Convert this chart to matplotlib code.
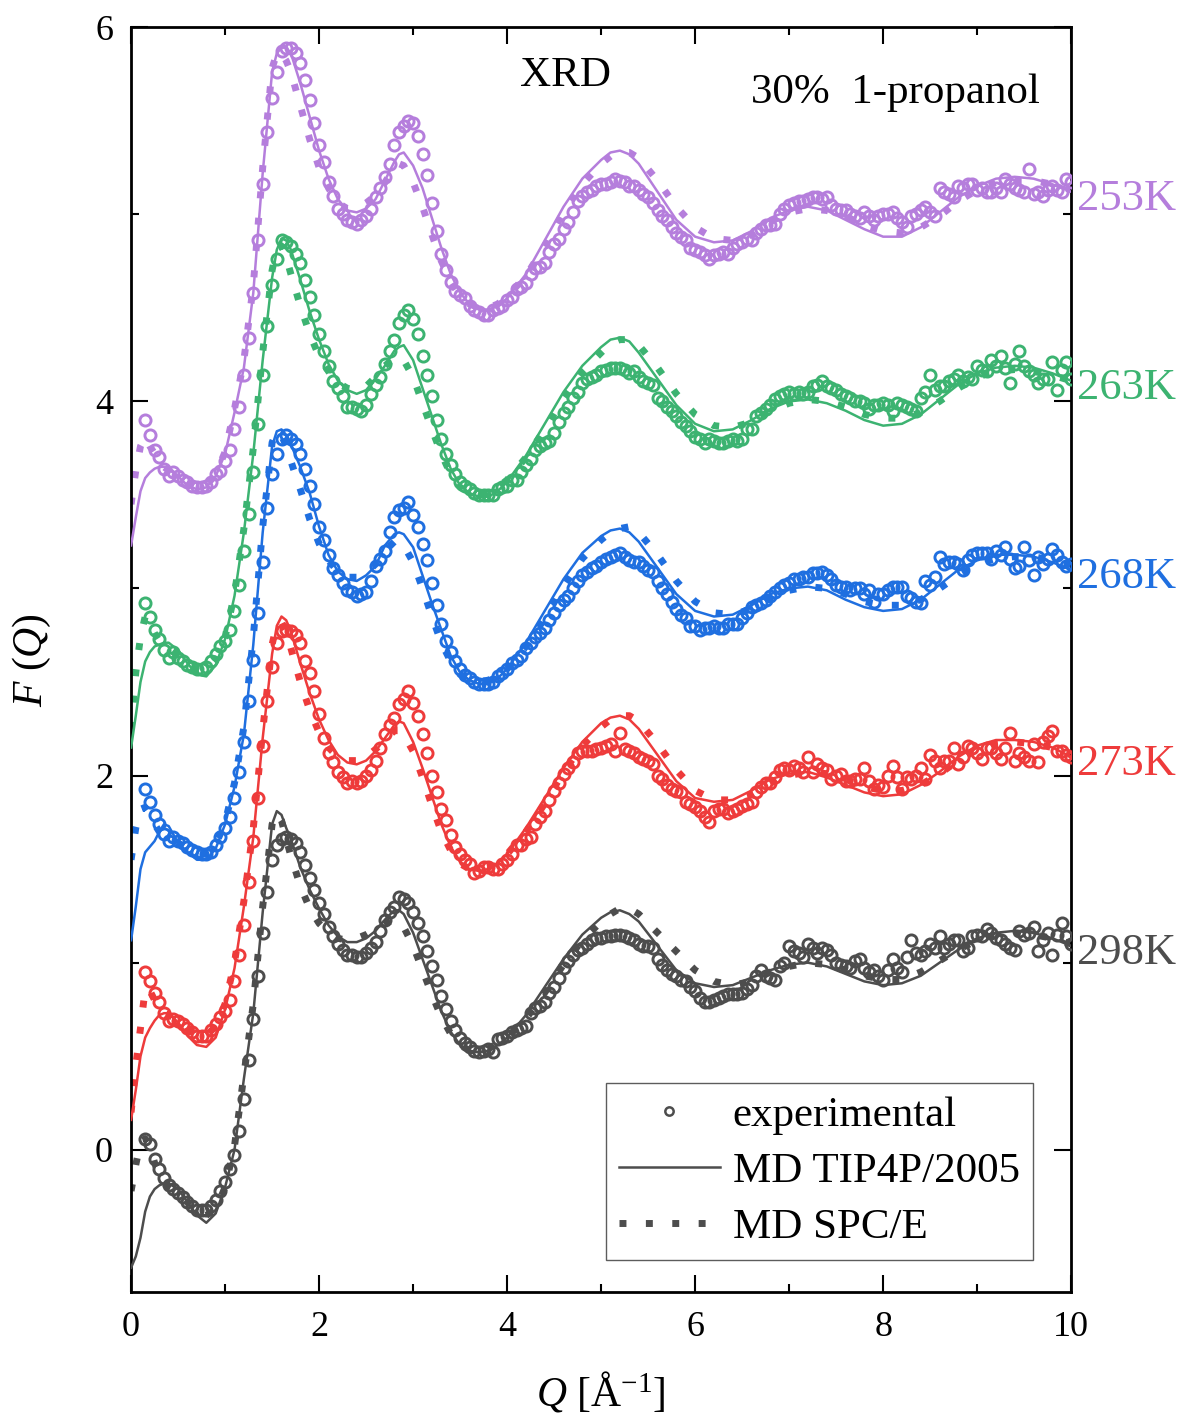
import numpy as np
import matplotlib
matplotlib.use("Agg")
import matplotlib.pyplot as plt
from matplotlib.lines import Line2D
from matplotlib.ticker import MultipleLocator
from matplotlib.transforms import blended_transform_factory

plt.rcParams['font.family'] = ['Liberation Serif', 'DejaVu Serif']
plt.rcParams['mathtext.fontset'] = 'custom'
plt.rcParams['mathtext.rm'] = 'Liberation Serif'
plt.rcParams['mathtext.it'] = 'Liberation Serif:italic'

# temperatures, vertical shift of each curve and colours
temps = ['298K', '273K', '268K', '263K', '253K']
offsets = [0, 1, 2, 3, 4]
colors = ['#4d4d4d', '#ee3b3b', '#1f6fe0', '#3cb371', '#b57edc']

# experimental grid, Q = 0.15 ... 10.0 in steps of 0.05
q_exp = np.round(np.arange(0.15, 10.001, 0.05), 2)

exp_298 = [
    0.06, 0.03, -0.05, -0.10, -0.15, -0.19, -0.21, -0.23, -0.25, -0.28,
    -0.30, -0.32, -0.32, -0.32, -0.30, -0.27, -0.22, -0.17, -0.10, -0.03,
    0.10, 0.27, 0.48, 0.70, 0.93, 1.16, 1.38, 1.55, 1.63, 1.66,
    1.67, 1.66, 1.64, 1.59, 1.52, 1.45, 1.39, 1.32, 1.26, 1.19,
    1.14, 1.10, 1.07, 1.04, 1.04, 1.03, 1.03, 1.05, 1.08, 1.11,
    1.17, 1.23, 1.27, 1.30, 1.35, 1.34, 1.32, 1.27, 1.21, 1.14,
    1.06, 0.98, 0.91, 0.82, 0.75, 0.69, 0.64, 0.60, 0.57, 0.55,
    0.53, 0.52, 0.53, 0.54, 0.52, 0.59, 0.60, 0.61, 0.63, 0.64,
    0.65, 0.66, 0.73, 0.76, 0.77, 0.79, 0.84, 0.87, 0.92, 0.97,
    1.01, 1.04, 1.07, 1.08, 1.10, 1.12, 1.13, 1.13, 1.14, 1.14,
    1.15, 1.15, 1.14, 1.13, 1.12, 1.10, 1.09, 1.09, 1.08, 1.02,
    0.99, 0.96, 0.94, 0.93, 0.91, 0.90, 0.87, 0.85, 0.81, 0.79,
    0.79, 0.80, 0.81, 0.82, 0.83, 0.83, 0.83, 0.84, 0.86, 0.88,
    0.93, 0.96, 0.93, 0.92, 0.91, 0.98, 1.00, 1.09, 1.06, 1.05,
    1.03, 1.10, 1.08, 1.05, 1.08, 1.07, 1.04, 1.00, 0.99, 0.98,
    0.97, 1.01, 1.02, 0.97, 0.95, 0.96, 0.93, 0.91, 0.96, 1.02,
    0.97, 0.95, 1.03, 1.12, 1.05, 1.04, 1.06, 1.10, 1.08, 1.14,
    1.08, 1.10, 1.12, 1.12, 1.06, 1.08, 1.14, 1.15, 1.14, 1.18,
    1.16, 1.13, 1.12, 1.10, 1.08, 1.07, 1.17, 1.15, 1.16, 1.19,
    1.06, 1.12, 1.16, 1.04, 1.15, 1.21, 1.14, 1.10]

exp_273 = [
    -0.05, -0.10, -0.16, -0.21, -0.27, -0.31, -0.30, -0.31, -0.33, -0.35,
    -0.37, -0.39, -0.39, -0.39, -0.36, -0.33, -0.29, -0.26, -0.20, -0.10,
    0.04, 0.20, 0.43, 0.65, 0.88, 1.16, 1.40, 1.58, 1.71, 1.77,
    1.78, 1.77, 1.75, 1.71, 1.61, 1.55, 1.45, 1.33, 1.20, 1.12,
    1.07, 1.02, 0.99, 0.96, 0.97, 0.96, 0.97, 1.00, 1.03, 1.08,
    1.15, 1.22, 1.27, 1.31, 1.38, 1.41, 1.45, 1.39, 1.32, 1.22,
    1.12, 1.00, 0.91, 0.82, 0.76, 0.68, 0.62, 0.58, 0.55, 0.53,
    0.48, 0.49, 0.51, 0.51, 0.50, 0.50, 0.53, 0.55, 0.58, 0.63,
    0.63, 0.66, 0.67, 0.74, 0.78, 0.81, 0.87, 0.92, 0.96, 1.01,
    1.04, 1.07, 1.12, 1.13, 1.13, 1.13, 1.14, 1.15, 1.16, 1.17,
    1.13, 1.23, 1.14, 1.13, 1.12, 1.10, 1.09, 1.08, 1.06, 1.00,
    0.98, 0.95, 0.93, 0.92, 0.91, 0.86, 0.85, 0.83, 0.81, 0.78,
    0.75, 0.81, 0.82, 0.82, 0.80, 0.81, 0.82, 0.84, 0.85, 0.86,
    0.91, 0.94, 0.96, 0.96, 0.99, 1.03, 1.04, 1.03, 1.05, 1.04,
    1.02, 1.10, 1.02, 1.06, 1.04, 1.03, 0.98, 1.00, 1.01, 0.97,
    0.97, 0.98, 0.98, 1.04, 0.97, 0.93, 0.95, 0.94, 1.00, 1.05,
    0.99, 0.93, 0.99, 0.98, 1.00, 1.04, 0.98, 1.11, 1.08, 1.04,
    1.08, 1.08, 1.15, 1.06, 1.10, 1.16, 1.15, 1.12, 1.09, 1.15,
    1.15, 1.12, 1.09, 1.15, 1.23, 1.08, 1.12, 1.10, 1.08, 1.17,
    1.07, 1.18, 1.21, 1.24, 1.13, 1.13, 1.11, 1.10]

exp_268 = [
    -0.07, -0.14, -0.21, -0.26, -0.31, -0.35, -0.33, -0.35, -0.36, -0.38,
    -0.40, -0.41, -0.42, -0.42, -0.41, -0.37, -0.33, -0.28, -0.22, -0.12,
    0.02, 0.18, 0.40, 0.62, 0.87, 1.14, 1.43, 1.61, 1.72, 1.80,
    1.82, 1.80, 1.77, 1.72, 1.64, 1.55, 1.45, 1.33, 1.26, 1.18,
    1.11, 1.07, 1.03, 0.99, 0.98, 0.96, 0.97, 0.98, 1.04, 1.12,
    1.16, 1.20, 1.30, 1.38, 1.42, 1.43, 1.46, 1.39, 1.33, 1.24,
    1.15, 1.03, 0.91, 0.81, 0.72, 0.66, 0.61, 0.57, 0.54, 0.52,
    0.50, 0.49, 0.49, 0.49, 0.50, 0.53, 0.55, 0.57, 0.60, 0.62,
    0.64, 0.68, 0.71, 0.74, 0.76, 0.79, 0.83, 0.87, 0.91, 0.94,
    0.96, 1.00, 1.04, 1.07, 1.09, 1.11, 1.12, 1.14, 1.16, 1.17,
    1.18, 1.19, 1.17, 1.15, 1.14, 1.14, 1.12, 1.10, 1.09, 1.04,
    1.00, 0.97, 0.93, 0.89, 0.86, 0.84, 0.80, 0.80, 0.78, 0.79,
    0.79, 0.80, 0.79, 0.79, 0.81, 0.81, 0.81, 0.84, 0.87, 0.90,
    0.91, 0.92, 0.94, 0.96, 0.98, 1.00, 1.02, 1.03, 1.05, 1.05,
    1.06, 1.06, 1.08, 1.08, 1.09, 1.07, 1.05, 1.02, 1.01, 1.01,
    0.99, 1.00, 1.00, 0.97, 0.99, 0.93, 0.97, 0.97, 0.99, 1.01,
    1.01, 1.01, 0.96, 0.95, 0.93, 0.92, 1.04, 1.02, 1.06, 1.17,
    1.13, 1.14, 1.14, 1.13, 1.10, 1.15, 1.18, 1.19, 1.19, 1.19,
    1.16, 1.20, 1.18, 1.22, 1.16, 1.11, 1.12, 1.22, 1.15, 1.07,
    1.17, 1.13, 1.16, 1.21, 1.18, 1.14, 1.12, 1.13]

exp_263 = [
    -0.08, -0.15, -0.22, -0.27, -0.33, -0.37, -0.34, -0.37, -0.39, -0.41,
    -0.42, -0.43, -0.43, -0.42, -0.39, -0.35, -0.31, -0.28, -0.22, -0.12,
    0.02, 0.20, 0.40, 0.62, 0.88, 1.14, 1.40, 1.62, 1.76, 1.86,
    1.85, 1.83, 1.79, 1.74, 1.65, 1.56, 1.46, 1.36, 1.27, 1.19,
    1.11, 1.07, 1.03, 0.97, 0.97, 0.96, 0.95, 0.98, 1.04, 1.09,
    1.13, 1.20, 1.27, 1.33, 1.42, 1.46, 1.49, 1.44, 1.36, 1.24,
    1.14, 1.03, 0.90, 0.80, 0.72, 0.66, 0.61, 0.57, 0.55, 0.53,
    0.51, 0.50, 0.50, 0.50, 0.50, 0.53, 0.54, 0.55, 0.58, 0.58,
    0.62, 0.66, 0.69, 0.74, 0.76, 0.78, 0.79, 0.83, 0.89, 0.94,
    0.97, 1.02, 1.05, 1.10, 1.12, 1.13, 1.14, 1.16, 1.17, 1.18,
    1.18, 1.18, 1.17, 1.15, 1.16, 1.13, 1.11, 1.10, 1.09, 1.02,
    1.00, 0.97, 0.95, 0.92, 0.89, 0.87, 0.84, 0.81, 0.80, 0.78,
    0.80, 0.79, 0.78, 0.78, 0.79, 0.80, 0.79, 0.80, 0.85, 0.85,
    0.92, 0.94, 0.96, 0.98, 1.01, 1.03, 1.04, 1.05, 1.04, 1.05,
    1.04, 1.05, 1.08, 1.09, 1.11, 1.08, 1.07, 1.06, 1.04, 1.03,
    1.02, 1.00, 1.00, 0.99, 0.96, 0.98, 0.98, 0.99, 0.98, 0.95,
    0.99, 0.98, 0.97, 0.96, 0.95, 1.02, 1.05, 1.14, 1.06, 1.08,
    1.08, 1.11, 1.12, 1.14, 1.11, 1.13, 1.12, 1.19, 1.17, 1.16,
    1.22, 1.19, 1.24, 1.18, 1.10, 1.20, 1.27, 1.19, 1.16, 1.14,
    1.10, 1.12, 1.12, 1.21, 1.06, 1.17, 1.21, 1.12]

exp_253 = [
    -0.10, -0.18, -0.26, -0.30, -0.36, -0.40, -0.38, -0.40, -0.42, -0.43,
    -0.45, -0.46, -0.46, -0.45, -0.43, -0.39, -0.37, -0.32, -0.26, -0.15,
    -0.03, 0.14, 0.34, 0.58, 0.86, 1.16, 1.44, 1.62, 1.76, 1.87,
    1.89, 1.89, 1.86, 1.81, 1.72, 1.61, 1.49, 1.37, 1.28, 1.17,
    1.10, 1.03, 1.00, 0.97, 0.96, 0.95, 0.97, 0.99, 1.03, 1.09,
    1.14, 1.20, 1.27, 1.37, 1.44, 1.47, 1.50, 1.49, 1.42, 1.32,
    1.21, 1.06, 0.91, 0.79, 0.70, 0.64, 0.59, 0.57, 0.55, 0.51,
    0.49, 0.48, 0.46, 0.46, 0.49, 0.50, 0.51, 0.54, 0.56, 0.60,
    0.61, 0.63, 0.68, 0.71, 0.72, 0.74, 0.80, 0.84, 0.87, 0.92,
    0.96, 1.01, 1.07, 1.10, 1.12, 1.13, 1.15, 1.16, 1.16, 1.17,
    1.19, 1.18, 1.17, 1.15, 1.15, 1.13, 1.11, 1.09, 1.06, 1.02,
    0.99, 0.97, 0.93, 0.90, 0.88, 0.86, 0.82, 0.81, 0.80, 0.78,
    0.76, 0.78, 0.79, 0.80, 0.79, 0.82, 0.84, 0.85, 0.87, 0.86,
    0.90, 0.92, 0.94, 0.94, 0.95, 1.00, 1.03, 1.05, 1.06, 1.07,
    1.07, 1.08, 1.09, 1.09, 1.08, 1.09, 1.05, 1.03, 1.02, 1.02,
    1.00, 0.99, 0.98, 1.01, 0.99, 0.97, 0.99, 1.00, 1.00, 1.01,
    0.98, 0.96, 0.93, 0.99, 1.00, 1.02, 1.04, 1.01, 0.99, 1.14,
    1.12, 1.11, 1.09, 1.15, 1.14, 1.16, 1.16, 1.13, 1.14, 1.12,
    1.12, 1.14, 1.12, 1.19, 1.16, 1.14, 1.13, 1.12, 1.24, 1.11,
    1.12, 1.10, 1.13, 1.15, 1.13, 1.12, 1.19, 1.17]

# MD curves (unshifted)
q_md = [0, 0.05, 0.1, 0.15, 0.2, 0.25, 0.3, 0.35, 0.4, 0.5,
        0.6, 0.7, 0.8, 0.9, 1.0, 1.1, 1.2, 1.3, 1.4, 1.5,
        1.55, 1.6, 1.65, 1.7, 1.8, 1.9, 2.0, 2.1, 2.2, 2.3,
        2.4, 2.5, 2.6, 2.7, 2.8, 2.85, 2.9, 3.0, 3.1, 3.2,
        3.3, 3.4, 3.5, 3.6, 3.7, 3.8, 3.9, 4.0, 4.2, 4.4,
        4.6, 4.8, 5.0, 5.1, 5.2, 5.3, 5.4, 5.6, 5.8, 6.0,
        6.2, 6.4, 6.6, 6.8, 7.0, 7.2, 7.4, 7.6, 7.8, 8.0,
        8.2, 8.4, 8.6, 8.8, 9.0, 9.2, 9.4, 9.6, 9.8, 10.0]

tip4p_298 = [
    -0.63, -0.57, -0.47, -0.33, -0.25, -0.21, -0.19, -0.18, -0.18, -0.21,
    -0.28, -0.35, -0.39, -0.34, -0.20, 0.00, 0.38, 0.73, 1.27, 1.74,
    1.81, 1.79, 1.72, 1.66, 1.51, 1.39, 1.29, 1.20, 1.14, 1.11,
    1.11, 1.13, 1.17, 1.23, 1.28, 1.28, 1.26, 1.16, 1.02, 0.88,
    0.74, 0.63, 0.56, 0.53, 0.52, 0.53, 0.56, 0.60, 0.72, 0.87,
    1.02, 1.15, 1.24, 1.27, 1.28, 1.26, 1.22, 1.09, 0.96, 0.89,
    0.87, 0.88, 0.92, 0.96, 0.99, 1.00, 0.98, 0.94, 0.90, 0.88,
    0.89, 0.93, 1.00, 1.07, 1.13, 1.16, 1.17, 1.16, 1.13, 1.09]
spce_298 = [
    -0.22, -0.08, 0.04, 0.06, 0.02, -0.07, -0.14, -0.18, -0.20, -0.23,
    -0.28, -0.33, -0.35, -0.32, -0.20, 0.02, 0.40, 0.78, 1.30, 1.74,
    1.80, 1.76, 1.66, 1.57, 1.41, 1.29, 1.21, 1.16, 1.13, 1.12,
    1.13, 1.15, 1.18, 1.21, 1.23, 1.22, 1.19, 1.09, 0.96, 0.83,
    0.71, 0.62, 0.56, 0.53, 0.53, 0.54, 0.57, 0.60, 0.70, 0.84,
    0.99, 1.12, 1.22, 1.26, 1.29, 1.29, 1.26, 1.16, 1.06, 0.96,
    0.90, 0.88, 0.90, 0.95, 0.98, 1.00, 0.99, 0.96, 0.93, 0.91,
    0.91, 0.95, 1.01, 1.07, 1.12, 1.15, 1.16, 1.15, 1.13, 1.10]

tip4p_273 = [
    -0.84, -0.68, -0.50, -0.40, -0.35, -0.31, -0.28, -0.27, -0.27, -0.32,
    -0.39, -0.44, -0.45, -0.40, -0.25, -0.03, 0.30, 0.67, 1.20, 1.65,
    1.80, 1.85, 1.83, 1.77, 1.60, 1.44, 1.30, 1.19, 1.11, 1.07,
    1.06, 1.08, 1.13, 1.20, 1.27, 1.29, 1.28, 1.18, 1.04, 0.89,
    0.74, 0.62, 0.54, 0.50, 0.49, 0.50, 0.53, 0.58, 0.72, 0.88,
    1.04, 1.18, 1.28, 1.31, 1.32, 1.30, 1.25, 1.11, 0.97, 0.88,
    0.86, 0.87, 0.92, 0.98, 1.01, 1.02, 0.99, 0.95, 0.91, 0.89,
    0.90, 0.95, 1.02, 1.10, 1.16, 1.19, 1.19, 1.18, 1.15, 1.10]
spce_273 = [
    -0.80, -0.55, -0.35, -0.14, -0.15, -0.20, -0.25, -0.27, -0.28, -0.31,
    -0.35, -0.39, -0.39, -0.34, -0.22, 0.00, 0.33, 0.72, 1.24, 1.70,
    1.81, 1.82, 1.77, 1.68, 1.50, 1.35, 1.23, 1.15, 1.10, 1.08,
    1.08, 1.10, 1.14, 1.19, 1.24, 1.24, 1.22, 1.13, 0.99, 0.84,
    0.70, 0.60, 0.53, 0.50, 0.50, 0.51, 0.54, 0.58, 0.70, 0.85,
    1.02, 1.16, 1.26, 1.30, 1.32, 1.32, 1.29, 1.17, 1.03, 0.92,
    0.87, 0.87, 0.90, 0.96, 1.00, 1.02, 1.01, 0.98, 0.94, 0.92,
    0.92, 0.95, 1.01, 1.08, 1.14, 1.17, 1.18, 1.17, 1.15, 1.11]

tip4p_268 = [
    -0.88, -0.70, -0.50, -0.41, -0.38, -0.35, -0.30, -0.26, -0.27, -0.36,
    -0.41, -0.45, -0.45, -0.39, -0.26, -0.06, 0.22, 0.70, 1.30, 1.76,
    1.84, 1.85, 1.82, 1.77, 1.65, 1.51, 1.33, 1.18, 1.09, 1.05,
    1.04, 1.07, 1.12, 1.23, 1.29, 1.30, 1.29, 1.22, 1.07, 0.92,
    0.78, 0.64, 0.55, 0.51, 0.49, 0.49, 0.52, 0.57, 0.71, 0.88,
    1.05, 1.19, 1.28, 1.31, 1.32, 1.30, 1.25, 1.11, 0.97, 0.88,
    0.85, 0.86, 0.91, 0.97, 1.00, 1.01, 0.99, 0.94, 0.90, 0.88,
    0.89, 0.94, 1.02, 1.10, 1.15, 1.18, 1.18, 1.17, 1.14, 1.10]
spce_268 = [
    -0.45, -0.28, -0.18, -0.17, -0.21, -0.26, -0.30, -0.32, -0.33, -0.36,
    -0.39, -0.42, -0.42, -0.37, -0.25, -0.04, 0.26, 0.74, 1.33, 1.78,
    1.84, 1.82, 1.76, 1.68, 1.53, 1.37, 1.24, 1.15, 1.09, 1.06,
    1.06, 1.08, 1.13, 1.20, 1.25, 1.25, 1.23, 1.14, 1.00, 0.85,
    0.71, 0.61, 0.54, 0.51, 0.50, 0.51, 0.53, 0.57, 0.69, 0.84,
    1.01, 1.16, 1.26, 1.30, 1.32, 1.33, 1.30, 1.18, 1.04, 0.93,
    0.87, 0.86, 0.89, 0.95, 0.99, 1.01, 1.00, 0.97, 0.93, 0.91,
    0.91, 0.94, 1.00, 1.07, 1.13, 1.16, 1.17, 1.17, 1.15, 1.12]

tip4p_263 = [
    -0.85, -0.68, -0.50, -0.39, -0.34, -0.31, -0.30, -0.29, -0.29, -0.33,
    -0.40, -0.46, -0.47, -0.41, -0.27, -0.04, 0.30, 0.72, 1.22, 1.66,
    1.81, 1.87, 1.86, 1.81, 1.65, 1.48, 1.33, 1.20, 1.11, 1.06,
    1.04, 1.06, 1.12, 1.19, 1.27, 1.29, 1.30, 1.22, 1.07, 0.92,
    0.77, 0.64, 0.55, 0.51, 0.49, 0.49, 0.52, 0.57, 0.71, 0.88,
    1.05, 1.19, 1.29, 1.33, 1.34, 1.32, 1.26, 1.12, 0.98, 0.88,
    0.84, 0.85, 0.90, 0.96, 1.00, 1.01, 0.99, 0.95, 0.90, 0.87,
    0.88, 0.93, 1.01, 1.09, 1.15, 1.18, 1.19, 1.18, 1.15, 1.11]
spce_263 = [
    -0.75, -0.45, -0.26, -0.15, -0.19, -0.24, -0.28, -0.30, -0.31, -0.35,
    -0.40, -0.44, -0.44, -0.39, -0.26, -0.03, 0.32, 0.75, 1.26, 1.70,
    1.82, 1.83, 1.77, 1.68, 1.51, 1.36, 1.24, 1.16, 1.10, 1.07,
    1.06, 1.08, 1.13, 1.19, 1.23, 1.24, 1.22, 1.13, 0.99, 0.85,
    0.72, 0.61, 0.54, 0.51, 0.50, 0.51, 0.54, 0.58, 0.70, 0.85,
    1.02, 1.16, 1.26, 1.31, 1.33, 1.33, 1.30, 1.18, 1.04, 0.93,
    0.87, 0.86, 0.89, 0.95, 0.99, 1.01, 1.00, 0.97, 0.93, 0.91,
    0.91, 0.94, 1.00, 1.07, 1.13, 1.16, 1.17, 1.16, 1.14, 1.11]

tip4p_253 = [
    -0.77, -0.62, -0.48, -0.41, -0.38, -0.36, -0.35, -0.35, -0.35, -0.40,
    -0.45, -0.47, -0.46, -0.40, -0.28, -0.06, 0.18, 0.58, 1.22, 1.76,
    1.86, 1.89, 1.89, 1.86, 1.70, 1.52, 1.34, 1.19, 1.08, 1.02,
    1.01, 1.03, 1.08, 1.18, 1.28, 1.32, 1.33, 1.26, 1.14, 0.98,
    0.82, 0.68, 0.58, 0.52, 0.49, 0.49, 0.51, 0.55, 0.68, 0.86,
    1.04, 1.19, 1.29, 1.33, 1.34, 1.32, 1.27, 1.12, 0.97, 0.88,
    0.85, 0.86, 0.91, 0.98, 1.02, 1.04, 1.02, 0.97, 0.92, 0.88,
    0.88, 0.93, 1.01, 1.09, 1.15, 1.19, 1.20, 1.19, 1.16, 1.12]
spce_253 = [
    -0.55, -0.37, -0.24, -0.19, -0.24, -0.28, -0.32, -0.35, -0.37, -0.40,
    -0.44, -0.46, -0.45, -0.39, -0.27, -0.04, 0.22, 0.62, 1.25, 1.78,
    1.86, 1.86, 1.82, 1.76, 1.58, 1.40, 1.25, 1.14, 1.06, 1.03,
    1.03, 1.06, 1.10, 1.17, 1.25, 1.27, 1.26, 1.17, 1.04, 0.89,
    0.75, 0.64, 0.56, 0.52, 0.50, 0.50, 0.52, 0.56, 0.67, 0.83,
    1.01, 1.16, 1.27, 1.31, 1.33, 1.33, 1.30, 1.18, 1.04, 0.93,
    0.87, 0.86, 0.89, 0.96, 1.01, 1.03, 1.02, 0.99, 0.94, 0.91,
    0.90, 0.93, 0.99, 1.07, 1.13, 1.17, 1.18, 1.18, 1.16, 1.13]

exp_all = [exp_298, exp_273, exp_268, exp_263, exp_253]
tip4p_all = [tip4p_298, tip4p_273, tip4p_268, tip4p_263, tip4p_253]
spce_all = [spce_298, spce_273, spce_268, spce_263, spce_253]

fig = plt.figure(figsize=(11.81, 14.27), dpi=100)
ax = fig.add_axes([0.111, 0.0946, 0.796, 0.8864])

dots = (0, (1, 2.8))
trans = blended_transform_factory(ax.transAxes, ax.transData)
for temp, off, col, fe, ft, fs in zip(temps, offsets, colors, exp_all, tip4p_all, spce_all):
    ax.plot(q_md, np.array(fs) + off, color=col, lw=5, ls=dots,
            dash_capstyle='butt', zorder=2)
    ax.plot(q_md, np.array(ft) + off, color=col, lw=1.8, zorder=3)
    ax.plot(q_exp, np.array(fe) + off, ls='none', marker='o', ms=8,
            mfc='none', mec=col, mew=2.1, zorder=4)
    # temperature label just outside the right spine
    ax.text(1.006, ft[-1] + off - 0.04, temp, transform=trans, color=col,
            fontsize=32, ha='left', va='center', clip_on=False)

ax.set_xlim(0, 10)
ax.set_ylim(-0.76, 6)
ax.set_xticks([0, 2, 4, 6, 8, 10])
ax.set_yticks([0, 2, 4, 6])
ax.xaxis.set_minor_locator(MultipleLocator(1))
ax.yaxis.set_minor_locator(MultipleLocator(1))
ax.tick_params(which='both', direction='in', top=True, right=True, width=1.5)
ax.tick_params(which='major', length=12, labelsize=26)
ax.tick_params(which='minor', length=6)
ax.tick_params(axis='x', pad=14)
ax.tick_params(axis='y', pad=13)
for sp in ax.spines.values():
    sp.set_linewidth(2)

ax.set_xlabel(r'$Q$ [Å$^{\mathrm{-1}}$]', fontsize=30, labelpad=18)
ax.set_ylabel(r'$F$ ($Q$)', fontsize=30, labelpad=30)

ax.text(4.62, 5.74, 'XRD', fontsize=31, ha='center', va='center')
ax.text(8.13, 5.65, '30%  1-propanol', fontsize=31, ha='center', va='center')

gray = colors[0]
handles = [
    Line2D([], [], ls='none', marker='o', ms=6, mfc='none', mec=gray, mew=1.8),
    Line2D([], [], color=gray, lw=1.8),
    Line2D([], [], color=gray, lw=5, ls=dots, dash_capstyle='butt'),
]
leg = ax.legend(handles, ['experimental', 'MD TIP4P/2005', 'MD SPC/E'],
                loc='lower right', bbox_to_anchor=(0.959, 0.025), fontsize=31,
                frameon=True, fancybox=False, edgecolor='#333333',
                handlelength=2.35, handletextpad=0.3, labelspacing=0.4,
                borderpad=0.3, borderaxespad=0)
leg.get_frame().set_linewidth(1.0)

fig.savefig('out.png', dpi=100)
